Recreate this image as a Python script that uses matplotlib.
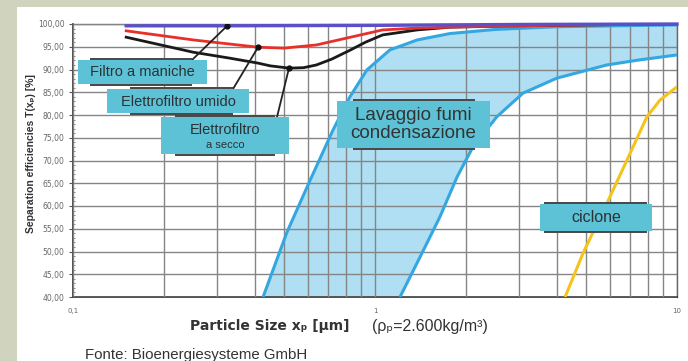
import matplotlib
matplotlib.use('Agg')
import matplotlib.pyplot as plt
from matplotlib.patches import Rectangle
from matplotlib.ticker import NullFormatter, FixedLocator, MultipleLocator
from matplotlib import font_manager

# ---------------- data ----------------
purple_x = [0.15, 0.3, 1.0, 3.0, 10.0]
purple_y = [99.6, 99.6, 99.7, 99.9, 100.0]

red_x = [0.15, 0.25, 0.33, 0.41, 0.5, 0.64, 0.83, 1.06, 1.38, 2.0, 3.0, 5.0, 10.0]
red_y = [98.5, 96.5, 95.6, 94.9, 94.7, 95.4, 97.1, 98.7, 99.1, 99.4, 99.6, 99.8, 100.0]

black_x = [0.15, 0.25, 0.33, 0.41, 0.45, 0.52, 0.58, 0.64, 0.72, 0.83, 0.93, 1.06, 1.38, 1.77, 3.0, 5.0, 10.0]
black_y = [97.1, 93.8, 92.5, 91.4, 90.8, 90.3, 90.4, 91.0, 92.3, 94.3, 96.0, 97.6, 98.7, 99.3, 99.6, 99.8, 100.0]

wash_hi_x = [0.426, 0.51, 0.61, 0.726, 0.826, 0.94, 1.12, 1.38, 1.77, 2.5, 4.0, 10.0]
wash_hi_y = [40.0, 54.1, 65.7, 76.7, 84.0, 89.9, 94.3, 96.5, 97.9, 98.8, 99.4, 99.8]

wash_lo_x = [1.21, 1.41, 1.64, 1.87, 2.11, 2.53, 3.09, 4.0, 5.86, 7.5, 10.0]
wash_lo_y = [40.0, 48.8, 57.6, 66.4, 73.0, 79.6, 84.8, 88.1, 91.0, 92.1, 93.2]

cyclone_x = [4.26, 4.89, 5.87, 6.83, 7.95, 8.79, 10.0]
cyclone_y = [40.0, 49.7, 60.7, 70.1, 79.6, 83.3, 86.2]

y_ticks = [40, 45, 50, 55, 60, 65, 70, 75, 80, 85, 90, 95, 100]
y_tick_labels = ['40,00', '45,00', '50,00', '55,00', '60,00', '65,00', '70,00',
                 '75,00', '80,00', '85,00', '90,00', '95,00', '100,00']
x_ticks = [0.1, 1, 10]
x_tick_labels = ['0,1', '1', '10']

label_filtro = 'Filtro a maniche'
label_umido = 'Elettrofiltro umido'
label_secco = 'Elettrofiltro'
label_secco2 = 'a secco'
label_wash = 'Lavaggio fumi\ncondensazione'
label_cyclone = 'ciclone'

# leader-line targets on the curves (data coords)
filtro_pt = (0.324, 99.6)
umido_pt = (0.41, 94.9)
secco_pt = (0.519, 90.3)

# ---------------- figure ----------------
W, H = 688, 361
fig = plt.figure(figsize=(W / 100, H / 100), dpi=100, facecolor='#d0d4be')
fig.add_artist(Rectangle((17 / W, 0), 1 - 17 / W, 1 - 7 / H, transform=fig.transFigure,
                         facecolor='white', edgecolor='none', zorder=-10))

ax = fig.add_axes([73 / W, 1 - 297 / H, (677 - 73) / W, (297 - 24) / H])
ax.set_xscale('log')
ax.set_xlim(0.1, 10)
ax.set_ylim(40, 100)

ax.xaxis.set_major_locator(FixedLocator(x_ticks))
ax.set_xticklabels(x_tick_labels)
ax.xaxis.set_minor_formatter(NullFormatter())
ax.set_yticks(y_ticks)
ax.set_yticklabels(y_tick_labels)
ax.yaxis.set_minor_locator(MultipleLocator(1))

ax.set_axisbelow(False)
ax.grid(axis='x', which='both', color='#858585', lw=1.0)
ax.grid(axis='y', which='major', color='#858585', lw=1.0)
ax.tick_params(axis='x', which='both', length=0, labelsize=5, labelcolor='#666666', pad=8)
ax.tick_params(axis='y', which='major', length=3, labelsize=5.5, labelcolor='#666666', pad=3, color='#555555')
ax.tick_params(axis='y', which='minor', length=1.5, color='#777777', direction='in')
for s in ['left', 'bottom']:
    ax.spines[s].set_color('#333333')
    ax.spines[s].set_linewidth(1.2)
for s in ['right', 'top']:
    ax.spines[s].set_color('#666666')
    ax.spines[s].set_linewidth(1.0)

# band
ax.fill(wash_hi_x + wash_lo_x[::-1], wash_hi_y + wash_lo_y[::-1],
        color='#b0dff3', lw=0, zorder=1)
ax.plot(wash_hi_x, wash_hi_y, color='#35a7e0', lw=2.2, zorder=3, solid_capstyle='butt')
ax.plot(wash_lo_x, wash_lo_y, color='#35a7e0', lw=2.2, zorder=3, solid_capstyle='butt')
ax.plot(cyclone_x, cyclone_y, color='#f4c41c', lw=2.2, zorder=3, solid_capstyle='butt')
ax.plot(black_x, black_y, color='#1a1a1a', lw=2.0, zorder=3)
ax.plot(red_x, red_y, color='#e8302a', lw=2.0, zorder=3)
ax.plot(purple_x, purple_y, color='#5b50c8', lw=2.4, zorder=4, clip_on=False)

# leader lines
for pt, start in [(filtro_pt, (192, 60)), (umido_pt, (233, 89)), (secco_pt, (277, 117))]:
    ax.annotate('', xy=pt, xycoords='data', xytext=(start[0], H - start[1]),
                textcoords='figure pixels',
                arrowprops=dict(arrowstyle='-', color='#222222', lw=1.3,
                                shrinkA=0, shrinkB=0), zorder=5)
    ax.plot([pt[0]], [pt[1]], 'o', color='#111111', ms=3.5, zorder=6)


def px(x, y):
    return x / W, 1 - y / H


def box(x0, y0, x1, y1, sx0, sx1):
    fig.add_artist(Rectangle(px(sx0, y1 + 2), (sx1 - sx0) / W, (y1 - y0 + 4) / H,
                             transform=fig.transFigure, facecolor='#4a4a4a',
                             edgecolor='none', zorder=5))
    fig.add_artist(Rectangle(px(x0, y1), (x1 - x0) / W, (y1 - y0) / H,
                             transform=fig.transFigure, facecolor='#5ec2d6',
                             edgecolor='none', zorder=6))


TXT = '#2a3236'
box(78, 60, 207, 84, 90, 192)
fig.text(*px(142.5, 72.5), label_filtro, ha='center', va='center', fontsize=10.5,
         family='Liberation Sans', color=TXT, zorder=7)
box(107, 89, 249, 113, 130, 233)
fig.text(*px(178, 101.5), label_umido, ha='center', va='center', fontsize=10.5,
         family='Liberation Sans', color=TXT, zorder=7)
box(161, 117, 289, 154, 175, 275)
fig.text(*px(225, 130), label_secco, ha='center', va='center', fontsize=10.5,
         family='Liberation Sans', color=TXT, zorder=7)
fig.text(*px(225, 145), label_secco2, ha='center', va='center', fontsize=8,
         family='Liberation Sans', color=TXT, zorder=7)
box(337, 101, 490, 148, 353, 475)
fig.text(*px(413, 124.5), label_wash, ha='center', va='center', fontsize=13.5,
         family='Liberation Sans', color='#333333', zorder=7, linespacing=1.05)
box(540, 204, 652, 231, 544, 647)
fig.text(*px(596, 217.5), label_cyclone, ha='center', va='center', fontsize=11.5,
         family='Liberation Sans', color=TXT, zorder=7)

# axis labels
names = {f.name for f in font_manager.fontManager.ttflist}
narrow = 'Liberation Sans Narrow' if 'Liberation Sans Narrow' in names else 'Liberation Sans'
fig.text(*px(31, 154), 'Separation efficiencies T(xₚ) [%]', rotation=90, ha='center',
         va='center', fontsize=9 if narrow != 'Liberation Sans' else 7.5, fontweight='bold',
         family=[narrow, 'DejaVu Sans'], color='#333333')
fig.text(*px(190, 326), 'Particle Size xₚ [µm]', ha='left', va='center', fontsize=10,
         fontweight='bold', family=['DejaVu Sans'], color='#333333')
fig.text(*px(372, 326), '(ρₚ=2.600kg/m³)', ha='left', va='center', fontsize=11.5,
         family=['Liberation Sans', 'DejaVu Sans'], color='#333333')
fig.text(*px(85, 359), 'Fonte: Bioenergiesysteme GmbH', ha='left', va='baseline',
         fontsize=10.8, family='Liberation Sans', color='#333333')

fig.savefig('out.png', dpi=100, facecolor=fig.get_facecolor())
